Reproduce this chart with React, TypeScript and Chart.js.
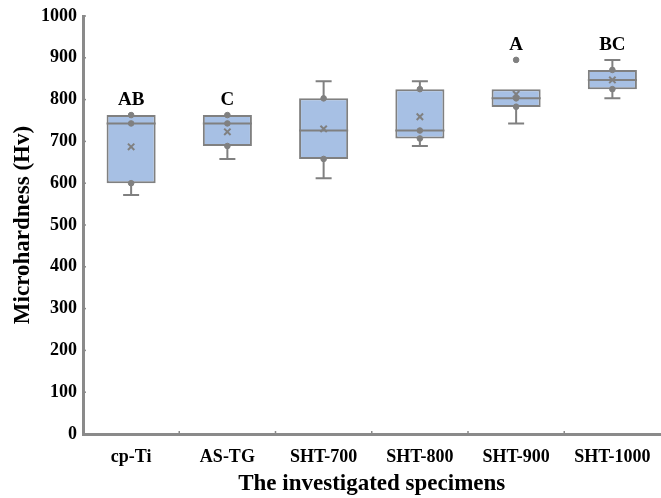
import React, { useEffect, useRef } from "react";
import { Chart, registerables } from "chart.js";

Chart.register(...registerables);

const categories = ["cp-Ti", "AS-TG", "SHT-700", "SHT-800", "SHT-900", "SHT-1000"];
const whiskerLow = [572, 658, 612, 689, 743, 803];
const q1 = [600, 689, 658, 707, 782, 825];
const median = [743, 743, 726, 726, 803, 847];
const q3 = [763, 763, 803, 825, 825, 871];
const whiskerHigh = [763, 763, 844, 844, 825, 895];
const means = [687, 723, 730, 759, 813, 847];
const pointsA = [763, 763, 803, 825, 803, 871];
const pointsB = [743, 743, 658, 726, 783, 825];
const pointsC = [600, 689, null, 707, null, null];
const outliers = [null, null, null, null, 895, null];
const letters = ["AB", "C", "", "", "A", "BC"];
const yTicks = [0, 100, 200, 300, 400, 500, 600, 700, 800, 900, 1000];

const GRAY = "#808080";
const AXIS = "#8a8a8a";
const FILL = "#a7c0e4";
const FONT = "'Liberation Serif', 'Times New Roman', serif";

const boxPlugin = {
  id: "boxExtras",
  afterDatasetDraw(chart: any, args: any) {
    if (args.index !== 0) return;
    const { ctx, scales } = chart;
    const x = scales.x;
    const y = scales.y;
    const meta = chart.getDatasetMeta(0);
    ctx.save();
    ctx.strokeStyle = GRAY;
    ctx.lineWidth = 2;
    categories.forEach((_, i) => {
      const bar = meta.data[i];
      const cx = x.getPixelForValue(i);
      const half = bar ? bar.width / 2 : 24;
      const capHalf = 8;
      const ym = y.getPixelForValue(median[i]);
      ctx.beginPath();
      ctx.moveTo(cx - half, ym);
      ctx.lineTo(cx + half, ym);
      ctx.stroke();
      const yl = y.getPixelForValue(whiskerLow[i]);
      const yq1 = y.getPixelForValue(q1[i]);
      if (whiskerLow[i] < q1[i]) {
        ctx.beginPath();
        ctx.moveTo(cx, yq1);
        ctx.lineTo(cx, yl);
        ctx.moveTo(cx - capHalf, yl);
        ctx.lineTo(cx + capHalf, yl);
        ctx.stroke();
      }
      const yh = y.getPixelForValue(whiskerHigh[i]);
      const yq3 = y.getPixelForValue(q3[i]);
      if (whiskerHigh[i] > q3[i]) {
        ctx.beginPath();
        ctx.moveTo(cx, yq3);
        ctx.lineTo(cx, yh);
        ctx.moveTo(cx - capHalf, yh);
        ctx.lineTo(cx + capHalf, yh);
        ctx.stroke();
      }
    });
    ctx.restore();
  },
  afterDraw(chart: any) {
    const { ctx, scales, chartArea } = chart;
    const x = scales.x;
    const y = scales.y;
    ctx.save();
    ctx.fillStyle = "#000";
    ctx.font = `bold 19px ${FONT}`;
    ctx.textAlign = "center";
    ctx.textBaseline = "middle";
    categories.forEach((_, i) => {
      if (!letters[i]) return;
      const top = Math.max(whiskerHigh[i], outliers[i] ?? -Infinity);
      ctx.fillText(letters[i], x.getPixelForValue(i), y.getPixelForValue(top) - 15);
    });
    ctx.strokeStyle = AXIS;
    ctx.lineWidth = 1.5;
    yTicks.forEach((v) => {
      const py = y.getPixelForValue(v);
      ctx.beginPath();
      ctx.moveTo(chartArea.left, py);
      ctx.lineTo(chartArea.left + 3, py);
      ctx.stroke();
    });
    for (let i = 1; i < categories.length; i++) {
      const px = (x.getPixelForValue(i - 1) + x.getPixelForValue(i)) / 2;
      ctx.beginPath();
      ctx.moveTo(px, chartArea.bottom);
      ctx.lineTo(px, chartArea.bottom - 3);
      ctx.stroke();
    }
    ctx.restore();
  },
};

export default function App() {
  const ref = useRef<HTMLCanvasElement>(null);
  useEffect(() => {
    document.body.style.margin = "0";
    const pointDs = (data: (number | null)[], style: any, radius: number, extra: any = {}) => ({
      type: "line" as const,
      data,
      showLine: false,
      pointStyle: style,
      pointRadius: radius,
      pointBackgroundColor: GRAY,
      pointBorderColor: GRAY,
      pointBorderWidth: 1,
      order: 1,
      ...extra,
    });
    const chart = new Chart(ref.current!, {
      type: "bar",
      data: {
        labels: categories,
        datasets: [
          {
            type: "bar",
            data: categories.map((_, i) => [q1[i], q3[i]]) as any,
            backgroundColor: FILL,
            borderColor: GRAY,
            borderWidth: 2,
            borderSkipped: false,
            categoryPercentage: 1,
            barPercentage: 0.51,
            order: 10,
          } as any,
          pointDs(pointsA, "circle", 2.8),
          pointDs(pointsB, "circle", 2.8),
          pointDs(pointsC, "circle", 2.8),
          pointDs(outliers, "circle", 2.8),
          pointDs(means, "crossRot", 4.5, { pointBorderWidth: 2 }),
        ],
      },
      options: {
        animation: false,
        responsive: false,
        maintainAspectRatio: false,
        layout: { padding: { top: 16, right: 0, left: 0, bottom: 0 } },
        plugins: { legend: { display: false }, tooltip: { enabled: false } },
        scales: {
          x: {
            type: "category",
            offset: true,
            grid: { display: false, drawTicks: true, tickLength: 10 },
            border: { display: true, color: AXIS, width: 3 },
            ticks: {
              color: "#000",
              font: { family: FONT, size: 18, weight: "bold" },
              padding: 3,
              maxRotation: 0,
              autoSkip: false,
            },
            title: {
              display: true,
              text: "The investigated specimens",
              color: "#000",
              font: { family: FONT, size: 23, weight: "bold" },
              padding: { top: 0, bottom: 0 },
            },
            afterFit(scale: any) {
              scale.height = 64;
              scale.paddingLeft = 0;
              scale.paddingRight = 0;
            },
          },
          y: {
            min: 0,
            max: 1000,
            grid: { display: false, drawTicks: false },
            border: { display: true, color: AXIS, width: 3 },
            ticks: {
              stepSize: 100,
              color: "#000",
              font: { family: FONT, size: 18, weight: "bold" },
              padding: 6,
              callback: (v: any) => String(v),
            },
            title: {
              display: true,
              text: "Microhardness (Hv)",
              color: "#000",
              font: { family: FONT, size: 23, weight: "bold" },
              padding: { top: 9, bottom: 0 },
            },
            afterFit(scale: any) {
              scale.width = 83;
              scale.paddingTop = 0;
              scale.paddingBottom = 0;
            },
          },
        },
      },
      plugins: [boxPlugin],
    });
    return () => chart.destroy();
  }, []);
  return (
    <div style={{ position: "absolute", left: 0, top: 0, width: 661, height: 498, background: "#fff", overflow: "hidden" }}>
      <canvas ref={ref} width={667} height={498} />
    </div>
  );
}
